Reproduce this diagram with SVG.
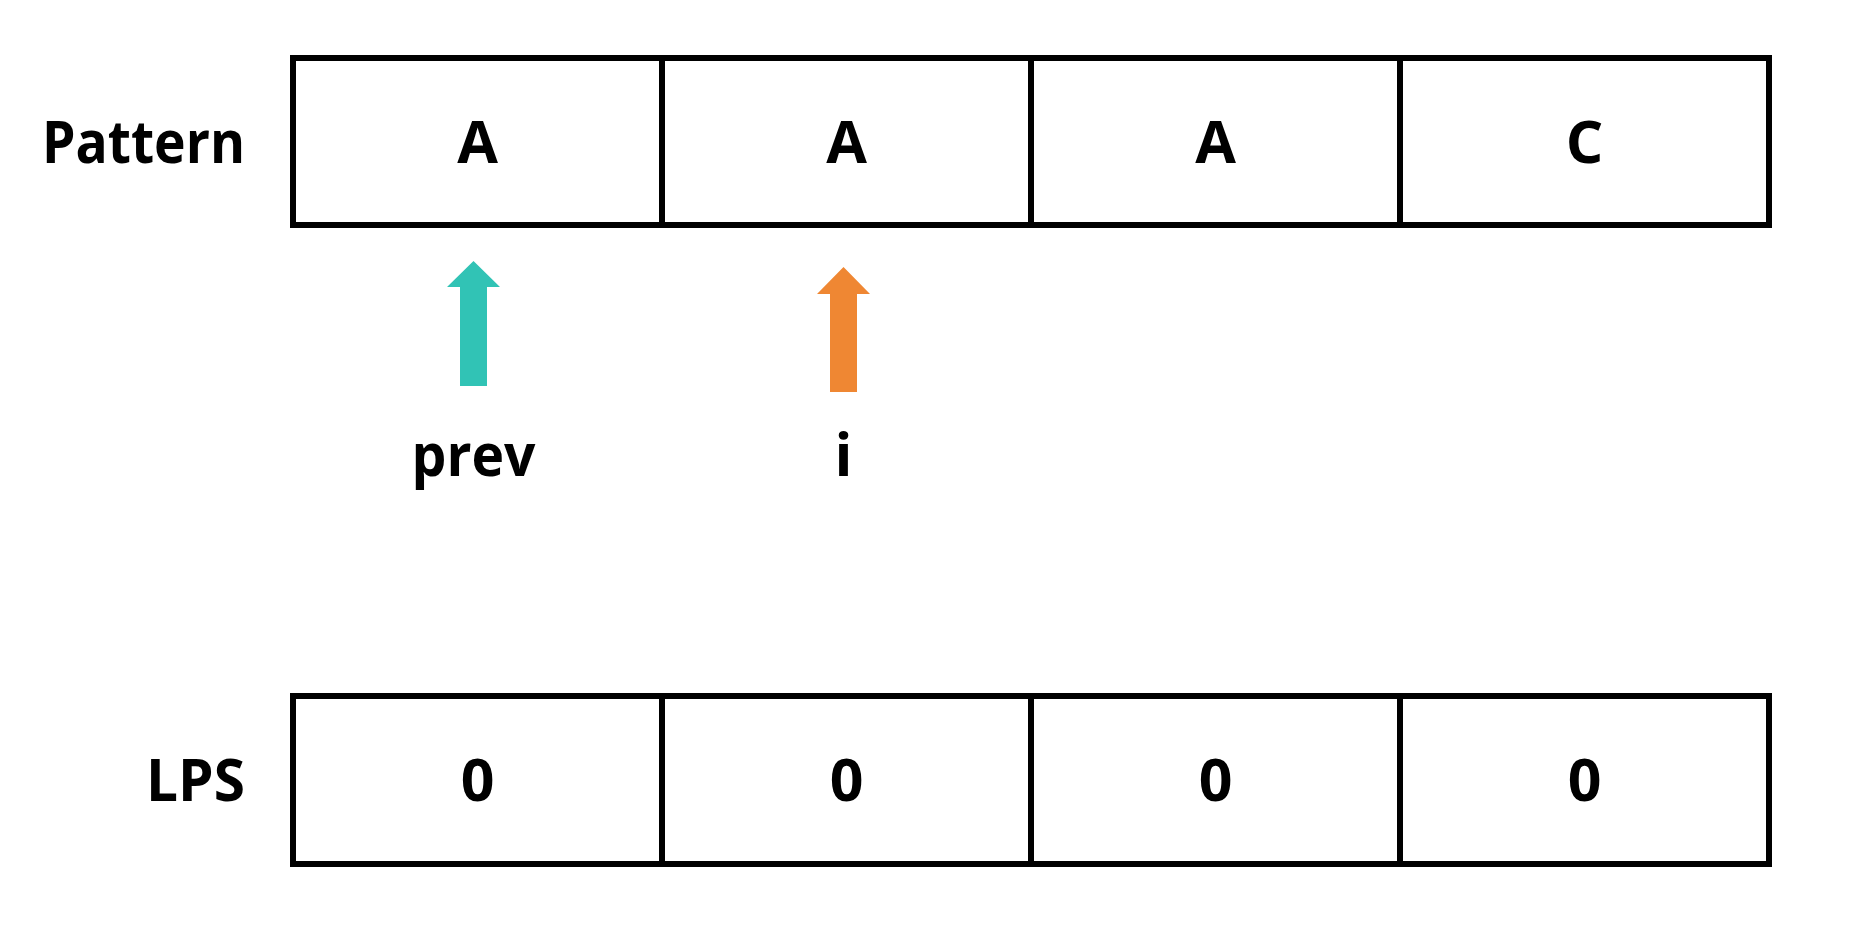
<svg xmlns="http://www.w3.org/2000/svg" width="1872" height="945" viewBox="0 0 1872 945">
<style>
.cell{fill:none;stroke:#000;stroke-width:6}
.t{font-family:"Open Sans","Liberation Sans",sans-serif;font-weight:bold;font-size:59px;fill:#000}
.c{text-anchor:middle}
.r{text-anchor:end}
</style>
<rect width="1872" height="945" fill="#fff"/>
<g id="pattern-label"><text class="t r" x="245" y="163" textLength="203" lengthAdjust="spacingAndGlyphs">Pattern</text></g>
<g id="lps-label"><text class="t r" x="245" y="801" textLength="99" lengthAdjust="spacingAndGlyphs">LPS</text></g>
<g id="p0"><rect class="cell" x="293" y="58" width="369" height="167"/><text class="t c" x="477.5" y="163">A</text></g>
<g id="p1"><rect class="cell" x="662" y="58" width="369" height="167"/><text class="t c" x="846.5" y="163">A</text></g>
<g id="p2"><rect class="cell" x="1031" y="58" width="369" height="167"/><text class="t c" x="1215.5" y="163">A</text></g>
<g id="p3"><rect class="cell" x="1400" y="58" width="369" height="167"/><text class="t c" x="1584.5" y="163">C</text></g>
<g id="l0"><rect class="cell" x="293" y="696" width="369" height="168"/><text class="t c" x="477.5" y="801">0</text></g>
<g id="l1"><rect class="cell" x="662" y="696" width="369" height="168"/><text class="t c" x="846.5" y="801">0</text></g>
<g id="l2"><rect class="cell" x="1031" y="696" width="369" height="168"/><text class="t c" x="1215.5" y="801">0</text></g>
<g id="l3"><rect class="cell" x="1400" y="696" width="369" height="168"/><text class="t c" x="1584.5" y="801">0</text></g>
<g id="connectors">
<polygon fill="#31C3B5" points="473.5,261 500,287 487,287 487,386 460,386 460,287 447,287"/>
<polygon fill="#EF8733" points="843.5,267 870,294 857,294 857,392 830,392 830,294 817,294"/>
</g>
<g id="prev-label"><text class="t c" x="473.5" y="476" textLength="124" lengthAdjust="spacingAndGlyphs">prev</text></g>
<g id="i-label"><text class="t c" x="843.5" y="476">i</text></g>
</svg>
